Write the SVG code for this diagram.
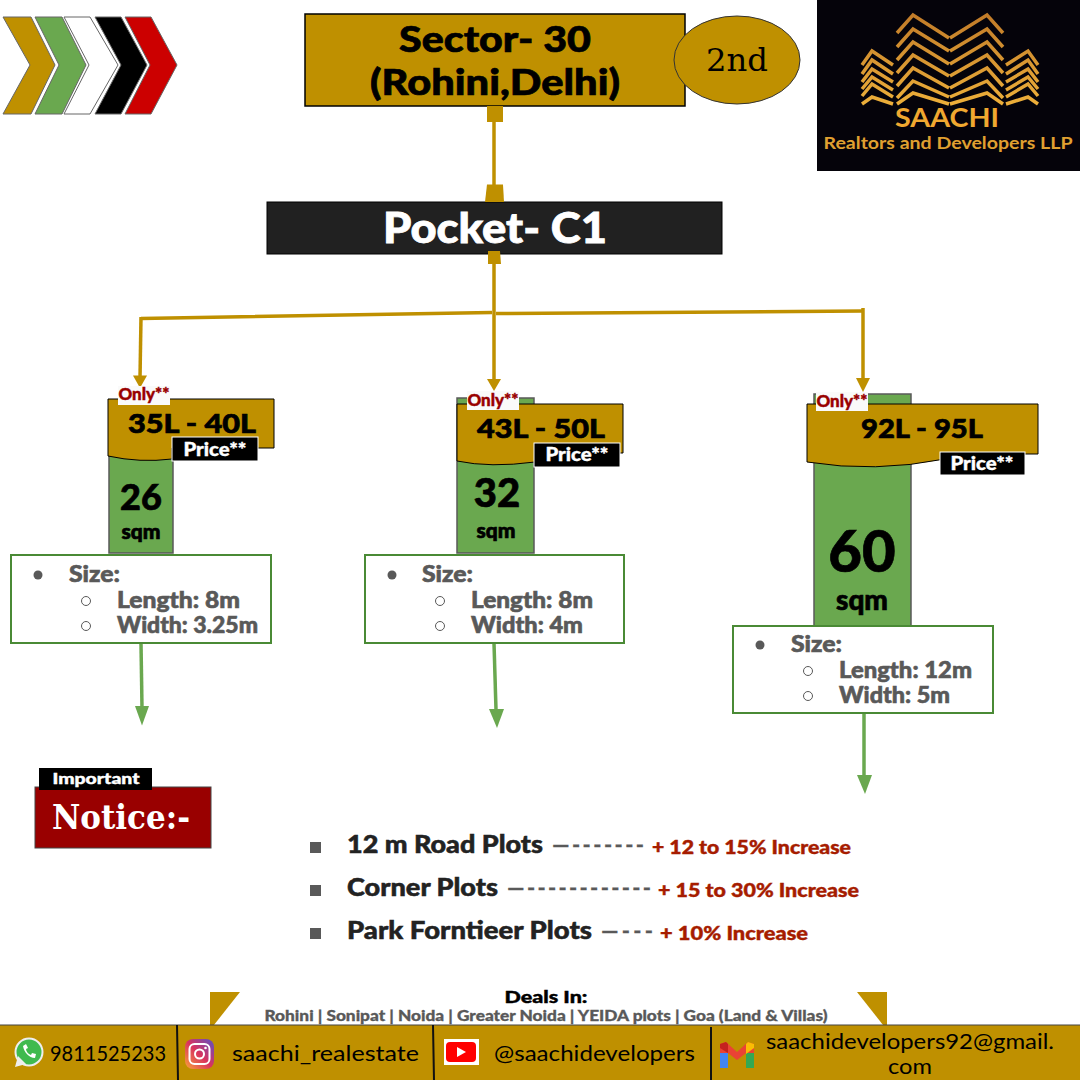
<svg xmlns="http://www.w3.org/2000/svg" width="1080" height="1080" viewBox="0 0 1080 1080">
<style>
text{font-family:"Lato","Liberation Sans",sans-serif}
.gold{fill:#bf9000}
.b{font-weight:900;fill:#000;stroke:#000;stroke-width:.7}
.grey{font-weight:900;fill:#595959;stroke:#595959;stroke-width:.6;font-size:22px}
.green{fill:#6aa84f;stroke:#595959;stroke-width:1.500}
.sz{fill:#fff;stroke:#4a8a35;stroke-width:2}
.dot{fill:#595959}
.ring{fill:#fff;stroke:#595959;stroke-width:1}
.gc{fill:none;stroke:#bf9000;stroke-width:3.500}
.gh{fill:#bf9000}
.gr{fill:none;stroke:#6aa84f;stroke-width:3.500}
.grh{fill:#6aa84f}
.only{font-weight:900;font-size:16px;fill:#990000;stroke:#990000;stroke-width:.4}
.price{font-weight:900;font-size:18px;fill:#fff;stroke:#fff;stroke-width:.4}
.red{font-weight:900;font-size:18px;fill:#a61c00;stroke:#a61c00;stroke-width:.4}
.list{font-weight:900;font-size:24px;fill:#222;stroke:#222;stroke-width:.5}
.dash{font-weight:700;font-size:22px;fill:#595959;stroke:#595959;stroke-width:.3}
.foot{font-size:22px;fill:#000}
.logo{fill:none;stroke:url(#lg);stroke-width:3.500}
</style>
<defs>
<linearGradient id="lg" gradientUnits="userSpaceOnUse" x1="0" y1="12" x2="0" y2="106"><stop offset="0" stop-color="#c07a28"/><stop offset="1" stop-color="#eeb03a"/></linearGradient>
<linearGradient id="ig" x1="0" y1="1" x2="1" y2="0"><stop offset="0" stop-color="#f9a43a"/><stop offset=".5" stop-color="#d9325e"/><stop offset="1" stop-color="#5b51c8"/></linearGradient>
</defs>
<rect width="1080" height="1080" fill="#fff"/>
<g id="chevrons" stroke="#666" stroke-width="1">
<polygon points="3,17 31,17 55,65 31,114 3,114 30,65" fill="#bf9000"/>
<polygon points="35,17 62,17 86,65 62,114 35,114 59,65" fill="#6aa84f"/>
<polygon points="64,17 90,17 118,65 90,114 64,114 89,65" fill="#fff"/>
<polygon points="95,17 121,17 147,65 121,114 95,114 121,65" fill="#000"/>
<polygon points="125,17 151,17 177,65 151,114 125,114 150,65" fill="#c00"/>
</g>
<g id="sector">
<rect x="305" y="14" width="380" height="92" class="gold" stroke="#000" stroke-width="1.500"/>
<text class="b" x="495" y="52" text-anchor="middle" font-size="36" textLength="192" lengthAdjust="spacingAndGlyphs">Sector- 30</text>
<text class="b" x="495" y="95" text-anchor="middle" font-size="36" textLength="250" lengthAdjust="spacingAndGlyphs">(Rohini,Delhi)</text>
</g>
<g id="second">
<ellipse cx="737" cy="60" rx="63" ry="44" class="gold" stroke="#333" stroke-width="1"/>
<text x="737" y="71" text-anchor="middle" font-size="32" style="font-family:'DejaVu Serif',serif" fill="#000" textLength="62" lengthAdjust="spacingAndGlyphs">2nd</text>
</g>
<g id="logo">
<rect x="817" y="0" width="263" height="171" fill="#05030a"/>
<g class="logo">
<path d="M897 33L913 15L949 38M950 38L987 15L1003 33"/>
<path d="M897 47L913 29L949 51M950 51L987 29L1003 47"/>
<path d="M897 60L913 42L949 64M950 64L987 42L1003 60"/>
<path d="M897 73L913 55L949 76M950 76L987 55L1003 73"/>
<path d="M897 86L913 68L949 88M950 88L987 68L1003 86"/>
<path d="M897 98L913 81L949 97M950 97L987 81L1003 98"/>
<path d="M897 104L913 93L949 104M950 104L987 93L1003 104"/>
<path d="M862 65L872 51L893 65M1006 65L1028 51L1038 65"/>
<path d="M862 74L872 60L893 74M1006 74L1028 60L1038 74"/>
<path d="M862 82L872 69L893 82M1006 82L1028 69L1038 82"/>
<path d="M862 89L872 77L893 90M1006 90L1028 77L1038 89"/>
<path d="M862 96L872 84L893 97M1006 97L1028 84L1038 96"/>
<path d="M862 104L872 97L893 104M1006 104L1028 97L1038 104"/>
</g>
<text x="947" y="127" text-anchor="middle" font-size="27" font-weight="700" fill="#f0a830" textLength="104" lengthAdjust="spacingAndGlyphs">SAACHI</text>
<text x="948" y="149" text-anchor="middle" font-size="17" font-weight="700" fill="#e0a030" textLength="249" lengthAdjust="spacingAndGlyphs">Realtors and Developers LLP</text>
</g>
<g id="pocket">
<rect x="267" y="202" width="455" height="52" fill="#212121" stroke="#000"/>
<text x="495" y="243" text-anchor="middle" font-size="42" font-weight="900" fill="#fff" stroke="#fff" stroke-width=".8" textLength="224" lengthAdjust="spacingAndGlyphs">Pocket- C1</text>
</g>
<g id="connectors">
<path class="gc" d="M494 122V186"/>
<path class="gc" d="M494 262V382"/>
<path class="gc" d="M141 318.500L492 312.500M496 313.500L863 311"/>
<path class="gc" d="M141 317L140 378"/>
<path class="gc" d="M863 308V380"/>
<polygon class="gh" points="133,375.500 147,375.500 140,388"/>
<polygon class="gh" points="487,379 501,379 494,391"/>
<polygon class="gh" points="856,378 870,378 863,392"/>
<rect class="gh" x="487" y="106" width="16" height="16"/>
<polygon class="gh" points="487,184.500 503,184.500 504,202 485,202"/>
<polygon class="gh" points="488,251 500,251 501,264 488,264"/>
<path class="gr" d="M141 643L142 708"/>
<polygon class="grh" points="135,706 149,706 142,725.500"/>
<path class="gr" d="M494 643L496 710"/>
<polygon class="grh" points="489,709 504,709 497,728"/>
<path class="gr" d="M864 712V776"/>
<polygon class="grh" points="857,775 872,775 865,794"/>
</g>
<g id="plot-26">
<rect class="green" x="109" y="450" width="64" height="103"/>
<text class="b" x="141" y="510" text-anchor="middle" font-size="36">26</text>
<text class="b" x="141" y="539" text-anchor="middle" font-size="21">sqm</text>
<path d="M108 399H274V448H172V459Q140 463 108 456Z" class="gold" stroke="#000"/>
<text class="b" x="192" y="433" text-anchor="middle" font-size="27" textLength="128" lengthAdjust="spacingAndGlyphs">35L - 40L</text>
<rect x="118" y="386" width="52" height="19" fill="#fafafa"/>
<text class="only" x="144" y="400" text-anchor="middle" textLength="51" lengthAdjust="spacingAndGlyphs">Only**</text>
<rect x="172" y="437" width="86" height="24" fill="#000" stroke="#fff"/>
<text class="price" x="215" y="456" text-anchor="middle" textLength="63" lengthAdjust="spacingAndGlyphs">Price**</text>
</g>
<g id="size-26">
<rect class="sz" x="11" y="555" width="260" height="88"/>
<circle class="dot" cx="38" cy="575" r="4.500"/>
<text class="grey" x="69" y="582" textLength="51" lengthAdjust="spacingAndGlyphs">Size:</text>
<circle class="ring" cx="86" cy="601" r="4.500"/>
<text class="grey" x="117" y="608" textLength="123" lengthAdjust="spacingAndGlyphs">Length: 8m</text>
<circle class="ring" cx="86" cy="626" r="4.500"/>
<text class="grey" x="117" y="633" textLength="141" lengthAdjust="spacingAndGlyphs">Width: 3.25m</text>
</g>
<g id="plot-32">
<rect class="green" x="457" y="398" width="77" height="155"/>
<text class="b" x="497" y="507" text-anchor="middle" font-size="40">32</text>
<text class="b" x="496" y="538" text-anchor="middle" font-size="21">sqm</text>
<path d="M457 404H623V453H535V462Q490 468 457 461Z" class="gold" stroke="#000"/>
<text class="b" x="541" y="438" text-anchor="middle" font-size="27" textLength="128" lengthAdjust="spacingAndGlyphs">43L - 50L</text>
<rect x="467" y="391" width="52" height="19" fill="#fafafa"/>
<text class="only" x="493" y="406" text-anchor="middle" textLength="51" lengthAdjust="spacingAndGlyphs">Only**</text>
<rect x="534" y="443" width="86" height="24" fill="#000" stroke="#fff"/>
<text class="price" x="577" y="461" text-anchor="middle" textLength="63" lengthAdjust="spacingAndGlyphs">Price**</text>
</g>
<g id="size-32">
<rect class="sz" x="365" y="555" width="259" height="88"/>
<circle class="dot" cx="392" cy="575" r="4.500"/>
<text class="grey" x="422" y="582" textLength="51" lengthAdjust="spacingAndGlyphs">Size:</text>
<circle class="ring" cx="440" cy="601" r="4.500"/>
<text class="grey" x="471" y="608" textLength="122" lengthAdjust="spacingAndGlyphs">Length: 8m</text>
<circle class="ring" cx="440" cy="626" r="4.500"/>
<text class="grey" x="471" y="633" textLength="112" lengthAdjust="spacingAndGlyphs">Width: 4m</text>
</g>
<g id="plot-60">
<rect class="green" x="814" y="394" width="97" height="232"/>
<text class="b" x="862" y="572" text-anchor="middle" font-size="58">60</text>
<text class="b" x="862" y="610" text-anchor="middle" font-size="28">sqm</text>
<path d="M807 404H1038V454H945V459Q875 473 807 462Z" class="gold" stroke="#000"/>
<text class="b" x="922" y="438" text-anchor="middle" font-size="27" textLength="122" lengthAdjust="spacingAndGlyphs">92L - 95L</text>
<rect x="816" y="392" width="52" height="19" fill="#fafafa"/>
<text class="only" x="842" y="407" text-anchor="middle" textLength="51" lengthAdjust="spacingAndGlyphs">Only**</text>
<rect x="940" y="452" width="85" height="23" fill="#000" stroke="#fff"/>
<text class="price" x="982" y="470" text-anchor="middle" textLength="63" lengthAdjust="spacingAndGlyphs">Price**</text>
</g>
<g id="size-60">
<rect class="sz" x="733" y="626" width="260" height="87"/>
<circle class="dot" cx="760" cy="645" r="4.500"/>
<text class="grey" x="791" y="652" textLength="51" lengthAdjust="spacingAndGlyphs">Size:</text>
<circle class="ring" cx="808" cy="671" r="4.500"/>
<text class="grey" x="839" y="678" textLength="133" lengthAdjust="spacingAndGlyphs">Length: 12m</text>
<circle class="ring" cx="808" cy="696" r="4.500"/>
<text class="grey" x="839" y="703" textLength="111" lengthAdjust="spacingAndGlyphs">Width: 5m</text>
</g>
<g id="notice">
<rect x="35" y="787" width="176" height="61" fill="#990000" stroke="#444"/>
<rect x="39" y="768" width="113" height="22" fill="#000"/>
<text x="96" y="784" text-anchor="middle" font-size="15" font-weight="900" fill="#fff" stroke="#fff" stroke-width=".4" textLength="87" lengthAdjust="spacingAndGlyphs">Important</text>
<text x="52" y="829" font-size="34" font-weight="700" fill="#fff" style="font-family:'DejaVu Serif',serif" textLength="138" lengthAdjust="spacingAndGlyphs">Notice:-</text>
</g>
<g id="increase-list">
<rect x="310" y="842" width="11" height="11" fill="#595959"/>
<text class="list" x="347" y="853" textLength="196" lengthAdjust="spacingAndGlyphs">12 m Road Plots</text>
<text class="dash" x="552" y="853" textLength="92" lengthAdjust="spacing">—-------</text>
<text class="red" x="652" y="854" textLength="199" lengthAdjust="spacingAndGlyphs">+ 12 to 15% Increase</text>
<rect x="310" y="885" width="11" height="11" fill="#595959"/>
<text class="list" x="347" y="896" textLength="151" lengthAdjust="spacingAndGlyphs">Corner Plots</text>
<text class="dash" x="507" y="896" textLength="144" lengthAdjust="spacing">—------------</text>
<text class="red" x="658" y="897" textLength="201" lengthAdjust="spacingAndGlyphs">+ 15 to 30% Increase</text>
<rect x="310" y="928" width="11" height="11" fill="#595959"/>
<text class="list" x="347" y="939" textLength="245" lengthAdjust="spacingAndGlyphs">Park Forntieer Plots</text>
<text class="dash" x="601" y="939" textLength="52" lengthAdjust="spacing">—---</text>
<text class="red" x="660" y="940" textLength="148" lengthAdjust="spacingAndGlyphs">+ 10% Increase</text>
</g>
<g id="deals">
<text x="546" y="1003" text-anchor="middle" font-size="16" font-weight="900" fill="#000" stroke="#000" stroke-width=".4" textLength="83" lengthAdjust="spacingAndGlyphs">Deals In:</text>
<text x="546" y="1021" text-anchor="middle" font-size="15" font-weight="900" fill="#595959" stroke="#595959" stroke-width=".3" textLength="563" lengthAdjust="spacingAndGlyphs">Rohini | Sonipat | Noida | Greater Noida | YEIDA plots | Goa (Land &amp; Villas)</text>
</g>
<g id="footer">
<polygon class="gold" points="210,992 240,992 210,1030"/>
<polygon class="gold" points="857,992 887,992 887,1030"/>
<rect x="-1" y="1025" width="1082" height="56" class="gold" stroke="#444"/>
<path d="M177 1025L178 1080M433 1025L434 1080M711 1027V1080" stroke="#111" stroke-width="2"/>
</g>
<g id="whatsapp">
<circle cx="29" cy="1052" r="13.500" fill="#3fba4e" stroke="#eee" stroke-width="2"/>
<path d="M15 1067L18 1056L26 1064Z" fill="#eee"/>
<path d="M23 1046C24 1052 29 1058 35 1058L36 1054L32 1053L31 1055C28 1054 26 1051 26 1049L28 1048L26 1044Z" fill="#fff"/>
<text class="foot" x="50" y="1061" textLength="116" lengthAdjust="spacingAndGlyphs">9811525233</text>
</g>
<g id="instagram">
<rect x="185" y="1039" width="29" height="30" rx="8" fill="url(#ig)"/>
<rect x="189.500" y="1044" width="20" height="20" rx="5" fill="none" stroke="#fff" stroke-width="2"/>
<circle cx="199.500" cy="1054" r="4.500" fill="none" stroke="#fff" stroke-width="2"/>
<circle cx="205.500" cy="1048" r="1.300" fill="#fff"/>
<text class="foot" x="232" y="1061" textLength="187" lengthAdjust="spacingAndGlyphs">saachi_realestate</text>
</g>
<g id="youtube">
<rect x="444" y="1039" width="35" height="26" fill="#fff"/>
<rect x="446" y="1042" width="30" height="20" rx="4" fill="#f00"/>
<polygon points="457,1047 457,1057 466,1052" fill="#fff"/>
<text class="foot" x="494" y="1061" textLength="201" lengthAdjust="spacingAndGlyphs">@saachidevelopers</text>
</g>
<g id="gmail">
<rect x="720" y="1052" width="8" height="16" fill="#4285f4"/>
<rect x="746" y="1052" width="8" height="16" fill="#34a853"/>
<polygon points="720,1044 726,1042 737,1052 748,1042 754,1044 754,1053 746,1053 737,1060 728,1053 720,1053" fill="#ea4335"/>
<polygon points="720,1044 726,1042 728,1044 728,1053 720,1048" fill="#c5221f"/>
<polygon points="748,1042 754,1044 754,1048 746,1054 746,1044" fill="#fbbc04"/>
<text class="foot" x="910" y="1049" text-anchor="middle" textLength="288" lengthAdjust="spacingAndGlyphs">saachidevelopers92@gmail.</text>
<text class="foot" x="910" y="1074" text-anchor="middle" textLength="44" lengthAdjust="spacingAndGlyphs">com</text>
</g>
</svg>
